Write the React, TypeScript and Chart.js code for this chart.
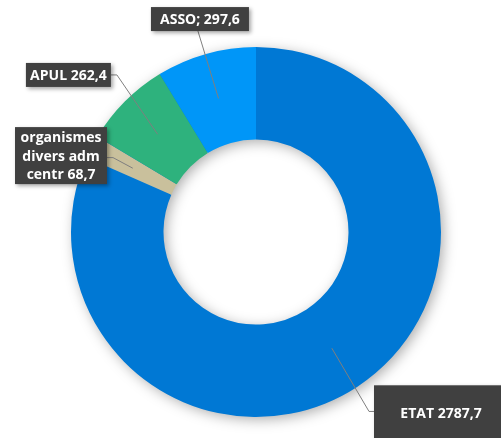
import React, { useEffect, useRef } from "react";
import { Chart, registerables } from "chart.js";

Chart.register(...registerables);

const categories = ["ETAT", "organismes divers adm centr", "APUL", "ASSO"];
const values = [2787.7, 68.7, 262.4, 297.6];
const labelTexts = [["ETAT 2787,7"], ["organismes", "divers adm", "centr 68,7"], ["APUL 262,4"], ["ASSO; 297,6"]];
const colors = ["#0078D4", "#C9C09C", "#2EB27D", "#0096F8"];

// label box placement, relative to chart centre, in units of outer radius
const labelBoxes = [
  { cx: 1.0, cy: 0.98, w: 134, h: 56, side: "left" },
  { cx: -1.054, cy: -0.413, w: 92, h: 57, side: "right" },
  { cx: -1.014, cy: -0.849, w: 85, h: 24, side: "right" },
  { cx: -0.303, cy: -1.151, w: 98, h: 24, side: "bottom" },
];

const ringShadow = {
  id: "ringShadow",
  beforeDatasetsDraw(chart: any) {
    const meta = chart.getDatasetMeta(0);
    const a = meta.data[0];
    if (!a) return;
    const { x, y, innerRadius, outerRadius } = a.getProps(["x", "y", "innerRadius", "outerRadius"], true);
    const ctx = chart.ctx;
    ctx.save();
    ctx.shadowColor = "rgba(0,0,0,0.35)";
    ctx.shadowBlur = 14;
    ctx.shadowOffsetX = 3;
    ctx.shadowOffsetY = 3;
    ctx.beginPath();
    ctx.arc(x, y, outerRadius - 1, 0, Math.PI * 2);
    ctx.arc(x, y, innerRadius + 1, 0, Math.PI * 2, true);
    ctx.closePath();
    ctx.fillStyle = "#0078D4";
    ctx.fill();
    ctx.restore();
  },
};

const calloutLabels = {
  id: "calloutLabels",
  afterDatasetsDraw(chart: any) {
    const meta = chart.getDatasetMeta(0);
    const ctx = chart.ctx;
    meta.data.forEach((arc: any, i: number) => {
      const { x, y, startAngle, endAngle, innerRadius, outerRadius } = arc.getProps(
        ["x", "y", "startAngle", "endAngle", "innerRadius", "outerRadius"],
        true
      );
      const mid = (startAngle + endAngle) / 2;
      const r = (innerRadius + outerRadius) / 2;
      const ax = x + r * Math.cos(mid);
      const ay = y + r * Math.sin(mid);
      const b = labelBoxes[i];
      const bx = x + b.cx * outerRadius;
      const by = y + b.cy * outerRadius;
      const left = bx - b.w / 2;
      const top = by - b.h / 2;

      // leader line
      ctx.save();
      ctx.strokeStyle = "#7f7f7f";
      ctx.lineWidth = 1;
      ctx.beginPath();
      if (b.side === "bottom") {
        ctx.moveTo(bx - 2, top + b.h);
        ctx.lineTo(ax, ay);
      } else if (b.side === "right") {
        const ly = labelTexts[i].length > 1 ? by + 2 : by;
        ctx.moveTo(left + b.w, ly);
        ctx.lineTo(left + b.w + 6, ly);
        ctx.lineTo(ax, ay);
      } else {
        const ly = y + 0.97 * outerRadius;
        ctx.moveTo(left, ly);
        ctx.lineTo(left - 5, ly);
        ctx.lineTo(ax, ay);
      }
      ctx.stroke();
      ctx.restore();

      // box
      ctx.save();
      ctx.shadowColor = "rgba(0,0,0,0.35)";
      ctx.shadowBlur = 4;
      ctx.shadowOffsetX = 2;
      ctx.shadowOffsetY = 2;
      ctx.fillStyle = "#404040";
      ctx.fillRect(left, top, b.w, b.h);
      ctx.restore();

      // text
      ctx.save();
      ctx.fillStyle = "#ffffff";
      ctx.font = "bold 14px 'Open Sans', 'DejaVu Sans', sans-serif";
      ctx.textAlign = "center";
      ctx.textBaseline = "middle";
      const lines = labelTexts[i];
      const lh = 18.5;
      const ty = b.side === "left" ? y + 0.978 * outerRadius : by;
      const tx = b.side === "left" ? left + 67 : bx;
      lines.forEach((t, k) => {
        ctx.fillText(t, tx, ty + (k - (lines.length - 1) / 2) * lh + 1);
      });
      ctx.restore();
    });
  },
};

export default function App() {
  const ref = useRef<HTMLCanvasElement>(null);
  useEffect(() => {
    if (!ref.current) return;
    const chart = new Chart(ref.current, {
      type: "doughnut",
      data: {
        labels: categories,
        datasets: [
          {
            data: values,
            backgroundColor: colors,
            borderWidth: 0,
          },
        ],
      },
      options: {
        animation: false,
        responsive: true,
        maintainAspectRatio: false,
        cutout: "50%",
        layout: { padding: { left: 71, right: 60, top: 47, bottom: 21 } },
        plugins: {
          legend: { display: false },
          tooltip: { enabled: false },
        },
      },
      plugins: [ringShadow, calloutLabels],
    });
    return () => chart.destroy();
  }, []);
  return (
    <div style={{ position: "fixed", left: 0, top: 0, width: 501, height: 438, background: "#ffffff" }}>
      <canvas ref={ref} />
    </div>
  );
}
